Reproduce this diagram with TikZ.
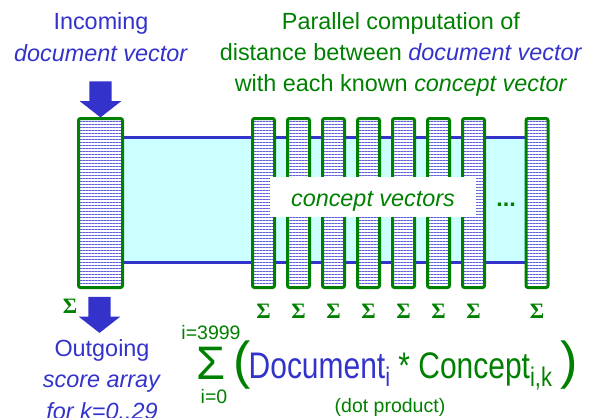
\documentclass[tikz,border=0pt]{standalone}
\usepackage{fontspec}
\setmainfont{Liberation Sans}
\newfontfamily\sigmafont{Liberation Serif}
\usepackage{graphicx}
\usetikzlibrary{positioning,shapes.arrows,patterns.meta}

\definecolor{docblue}{RGB}{51,51,204}
\definecolor{dkgreen}{RGB}{0,128,0}
\definecolor{hatchblue}{RGB}{95,95,220}
\definecolor{bandcyan}{RGB}{204,255,255}

\begin{document}
\begin{tikzpicture}[x=1pt, y=-1pt,
      vecbar/.style={draw=dkgreen, line width=3pt, rounded corners=2pt, inner sep=0pt,
        minimum width=22pt, minimum height=169pt, preaction={fill=white},
        pattern={Lines[angle=0, distance=3pt, line width=0.8pt]}, pattern color=hatchblue},
      blockarrow/.style={single arrow, fill=docblue, inner xsep=0pt, inner ysep=11pt, rotate=-90,
        minimum height=36pt, single arrow head extend=9.5pt, single arrow tip angle=104},
      sumsign/.style={text=dkgreen, inner sep=0pt, outer sep=0pt,
        font={\sigmafont\bfseries\fontsize{22}{22}\selectfont}},
      bigtext/.style={align=center, inner sep=0pt, font={\fontsize{23.4}{31.2}\selectfont}},
      limit/.style={text=dkgreen, inner sep=0pt, outer sep=0pt, font={\fontsize{19.5}{20}\selectfont}},
      paren/.style={text=dkgreen, inner sep=0pt, font={\fontsize{52}{52}\selectfont}}]
      \useasboundingbox (0,0) rectangle (590,418);

      % band from the document vector to the concept vectors
      \fill[bandcyan] (122,137) rectangle (526,262.5);
      \draw[docblue, line width=3pt] (122,137) -- (526,137) (122,262.5) -- (526,262.5);

      \node[vecbar, minimum width=44pt] (docvec) at (100.5,203) {};
      \foreach \i in {1,...,7}
        \node[vecbar] (cv\i) at ({228.5+35*\i},203) {};
      \node[vecbar] (cvlast) at (537,203) {};

      \node[fill=white, minimum width=206pt, minimum height=40pt, text height=20pt, text depth=2pt,
        inner sep=0pt, text=dkgreen, font={\itshape\fontsize{23.4}{28}\selectfont}]
        (cvlabel) at (373,197) {concept vectors};
      \node[text=dkgreen, inner sep=0pt, font={\bfseries\fontsize{23.4}{28}\selectfont}]
        (dots) at (506,205) {...};

      \foreach \i in {1,...,7}
        \node[sumsign, below=15pt of cv\i] (sum\i) {Σ};
      \node[sumsign, below=15pt of cvlast] (sumlast) {Σ};
      \node[sumsign] (sumdoc) at (70,306) {Σ};

      \node[blockarrow] (inarrow) at (100.5,95) {};
      \node[blockarrow] (outarrow) at (99.5,310.5) {};

      \node[bigtext, text=docblue, anchor=base] (intext) at (101,61)
        {Incoming\\\textit{document vector}};
      \node[bigtext, text=dkgreen, anchor=base] (partext) at (401,91.5)
        {Parallel computation of\\distance between \textcolor{docblue}{\textit{document vector}}\\
         with each known \textit{concept vector}};
      \node[bigtext, text=docblue, anchor=base] (outtext) at (102,419)
        {Outgoing\\\textit{score array}\\\textit{for k=0..29}};

      % dot product formula
      \node[text=dkgreen, inner sep=0pt, outer sep=0pt, anchor=base,
        font={\fontsize{47}{47}\selectfont}] (bigsum) at (211,379) {Σ};
      \node[limit, above=7pt of bigsum] (upper) {i=3999};
      \node[limit, below=10pt of bigsum, xshift=3pt] (lower) {i=0};
      \node[paren, anchor=base] (lpar) at (242,378) {(};
      \node[text=dkgreen, inner sep=0pt, anchor=base west] (formula) at (248.5,378)
        {\scalebox{0.81}[1]{\fontsize{37}{37}\selectfont
          \textcolor{docblue}{Document\raisebox{-8pt}{\fontsize{27}{27}\selectfont i}}
          * Concept\raisebox{-8pt}{\fontsize{27}{27}\selectfont i,k}}};
      \node[paren, anchor=base] (rpar) at (569,378) {)};
      \node[text=dkgreen, inner sep=0pt, anchor=base, font={\fontsize{19.5}{20}\selectfont}]
        (dotprod) at (390,412) {(dot product)};
    \end{tikzpicture}
\end{document}
